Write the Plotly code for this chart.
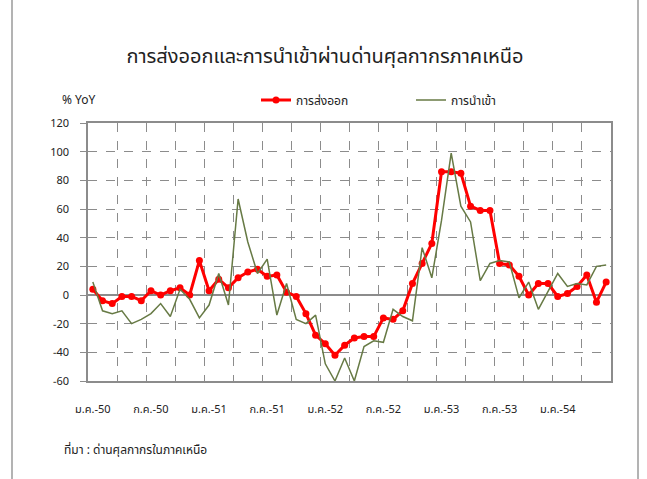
import plotly.graph_objects as go

months = list(range(54))  # ม.ค.-50 ... มิ.ย.-54, monthly
tick_pos = [0, 6, 12, 18, 24, 30, 36, 42, 48]
tick_labels = ["ม.ค.-50", "ก.ค.-50", "ม.ค.-51", "ก.ค.-51", "ม.ค.-52",
               "ก.ค.-52", "ม.ค.-53", "ก.ค.-53", "ม.ค.-54"]

exports = [4, -4, -6, -1, -1, -4, 3, 0, 3, 5, 0, 24, 3, 11, 5, 12, 16, 18,
           13, 14, 2, -1, -13, -28, -34, -42, -35, -30, -29, -29, -16, -17,
           -11, 8, 22, 36, 86, 86, 85, 62, 59, 59, 22, 21, 13, 0, 8, 8,
           -1, 1, 6, 14, -5, 9]
imports = [9, -11, -13, -11, -20, -17, -13, -6, -15, 4, -3, -16, -7, 15, -7,
           67, 37, 15, 25, -14, 8, -17, -20, -14, -48, -60, -44, -60, -36,
           -32, -33, -10, -15, -18, 33, 12, 52, 99, 62, 51, 10, 22, 24, 23,
           -2, 9, -10, 2, 15, 6, 8, 7, 20, 21]

FONT = "Tahoma, 'Microsoft Sans Serif', 'Noto Sans Thai', 'Noto Sans', sans-serif"
GRID = "#8c8c8c"

fig = go.Figure()
fig.add_trace(go.Scatter(
    x=months, y=exports, name="การส่งออก", mode="lines+markers",
    line=dict(color="#ff0000", width=3),
    marker=dict(color="#ff0000", size=7, symbol="circle"),
))
fig.add_trace(go.Scatter(
    x=months, y=imports, name="การนำเข้า", mode="lines",
    line=dict(color="#677a45", width=1.5),
))

fig.update_layout(
    width=647, height=479,
    margin=dict(l=88, r=36, t=123, b=98, autoexpand=False),
    paper_bgcolor="white", plot_bgcolor="white",
    font=dict(family=FONT, size=11, color="#222222"),
    title=dict(text="การส่งออกและการนำเข้าผ่านด่านศุลกากรภาคเหนือ",
               x=325 / 647, xanchor="center", xref="container",
               y=1 - 56 / 479, yanchor="middle", yref="container",
               font=dict(size=20, color="#222222", family=FONT)),
    legend=dict(orientation="h", xref="container", yref="container",
                x=256 / 647, xanchor="left", y=1 - 100 / 479, yanchor="middle",
                entrywidth=110, entrywidthmode="pixels",
                font=dict(size=12, color="#222222"),
                bgcolor="rgba(0,0,0,0)", itemclick=False),
    showlegend=True,
)

fig.update_xaxes(
    range=[-0.5, 53.5], tickmode="array", tickvals=tick_pos, ticktext=tick_labels,
    showgrid=False, zeroline=False,
    ticks="outside", ticklen=17, tickcolor="rgba(0,0,0,0)",
    showline=True, linecolor=GRID, linewidth=1.5, mirror=True,
    minor=dict(tick0=-0.5, dtick=3, showgrid=True, gridcolor=GRID,
               griddash="dash", gridwidth=1),
    tickfont=dict(size=11, color="#222222"),
)
fig.update_yaxes(
    range=[-60, 120], dtick=20, tick0=-60,
    showgrid=True, gridcolor=GRID, griddash="dash", gridwidth=1,
    zeroline=True, zerolinecolor=GRID, zerolinewidth=1.5,
    ticks="outside", ticklen=6, tickcolor=GRID, ticklabelstandoff=9,
    showline=True, linecolor=GRID, linewidth=1.5, mirror=True,
    tickfont=dict(size=11, color="#222222"),
)

fig.add_annotation(text="% YoY", xref="paper", yref="paper",
                   x=(60 - 88) / 523, xanchor="left",
                   y=1 + (123 - 100) / 258, yanchor="middle",
                   showarrow=False, font=dict(size=12, color="#222222"))
fig.add_annotation(text="ที่มา : ด่านศุลกากรในภาคเหนือ", xref="paper", yref="paper",
                   x=(62 - 88) / 523, xanchor="left",
                   y=-(450 - 381) / 258, yanchor="middle",
                   showarrow=False, font=dict(size=12, color="#222222"))

# outer chart frame (left and right edges only visible)
for xpix in (12, 638):
    fig.add_shape(type="line", xref="paper", yref="paper",
                  x0=(xpix - 88) / 523, x1=(xpix - 88) / 523,
                  y0=-(500 - 381) / 258, y1=1 + (123 + 20) / 258,
                  line=dict(color="#9a9a9a", width=1.5), layer="below")

fig.write_html("out.html",
               config={"displayModeBar": False},
               post_script="document.body.style.margin='0';document.body.style.overflow='hidden';")
